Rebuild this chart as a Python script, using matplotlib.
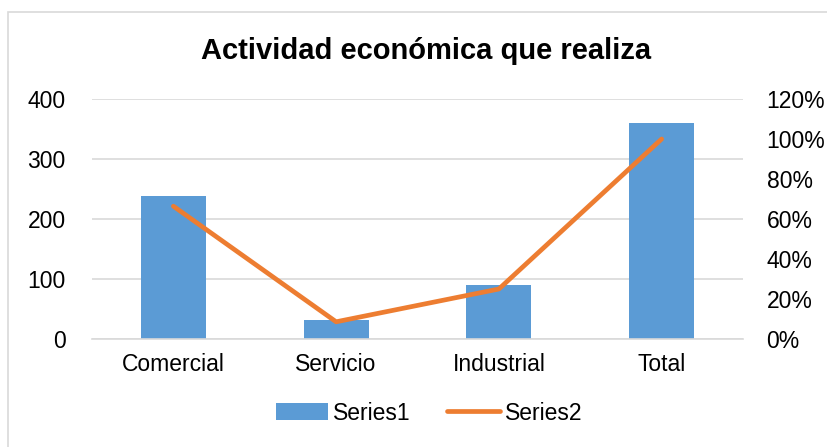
import matplotlib.pyplot as plt
from matplotlib.patches import Rectangle
from matplotlib.ticker import FuncFormatter

categories = ['Comercial', 'Servicio', 'Industrial', 'Total']
series1 = [239, 31, 90, 360]
series2 = [66.4, 8.6, 25.0, 100.0]

plt.rcParams['font.family'] = ['Liberation Sans', 'DejaVu Sans']

fig = plt.figure(figsize=(8.28, 4.47), dpi=100)
fig.patches.append(Rectangle((8 / 828, -0.01), 1.0, 1 - 12 / 447 + 0.01,
                             transform=fig.transFigure, fill=False,
                             edgecolor='#d9d9d9', linewidth=1.2))

ax = fig.add_axes([92 / 828, 1 - 339 / 447, 651 / 828, 240 / 447])
x = range(len(categories))
ax.bar(x, series1, width=0.4, color='#5b9bd5', label='Series1', zorder=2)
ax.set_ylim(0, 400)
ax.set_yticks([0, 100, 200, 300, 400])
ax.set_xlim(-0.5, 3.5)
ax.set_xticks(list(x))
ax.set_xticklabels(categories)
ax.grid(axis='y', color='#d9d9d9', linewidth=1.2, zorder=0)
ax.set_axisbelow(True)
for s in ['top', 'right', 'left']:
    ax.spines[s].set_visible(False)
ax.spines['bottom'].set_color('#d9d9d9')
ax.spines['bottom'].set_linewidth(1.2)
ax.tick_params(length=0, labelsize=16.5, colors='#000000')
ax.tick_params(axis='y', pad=19)
ax.tick_params(axis='x', pad=10)

ax2 = ax.twinx()
ax2.plot(x, series2, color='#ed7d31', linewidth=3.4, solid_capstyle='round',
         label='Series2', zorder=3)
ax2.set_ylim(0, 120)
ax2.set_yticks([0, 20, 40, 60, 80, 100, 120])
ax2.yaxis.set_major_formatter(FuncFormatter(lambda v, p: f'{v:.0f}%'))
for s in ax2.spines.values():
    s.set_visible(False)
ax2.tick_params(length=0, labelsize=16.5, pad=17)

fig.text(0.514, 1 - 51 / 447, 'Actividad económica que realiza',
         ha='center', va='center', fontsize=21, fontweight='bold')

h1, l1 = ax.get_legend_handles_labels()
h2, l2 = ax2.get_legend_handles_labels()
fig.legend(h1 + h2, l1 + l2, loc='center', bbox_to_anchor=(0.518, 1 - 413 / 447),
           ncol=2, frameon=False, fontsize=16.5, handlelength=2.3,
           handletextpad=0.2, columnspacing=1.6)

fig.savefig('out.png', dpi=100)
